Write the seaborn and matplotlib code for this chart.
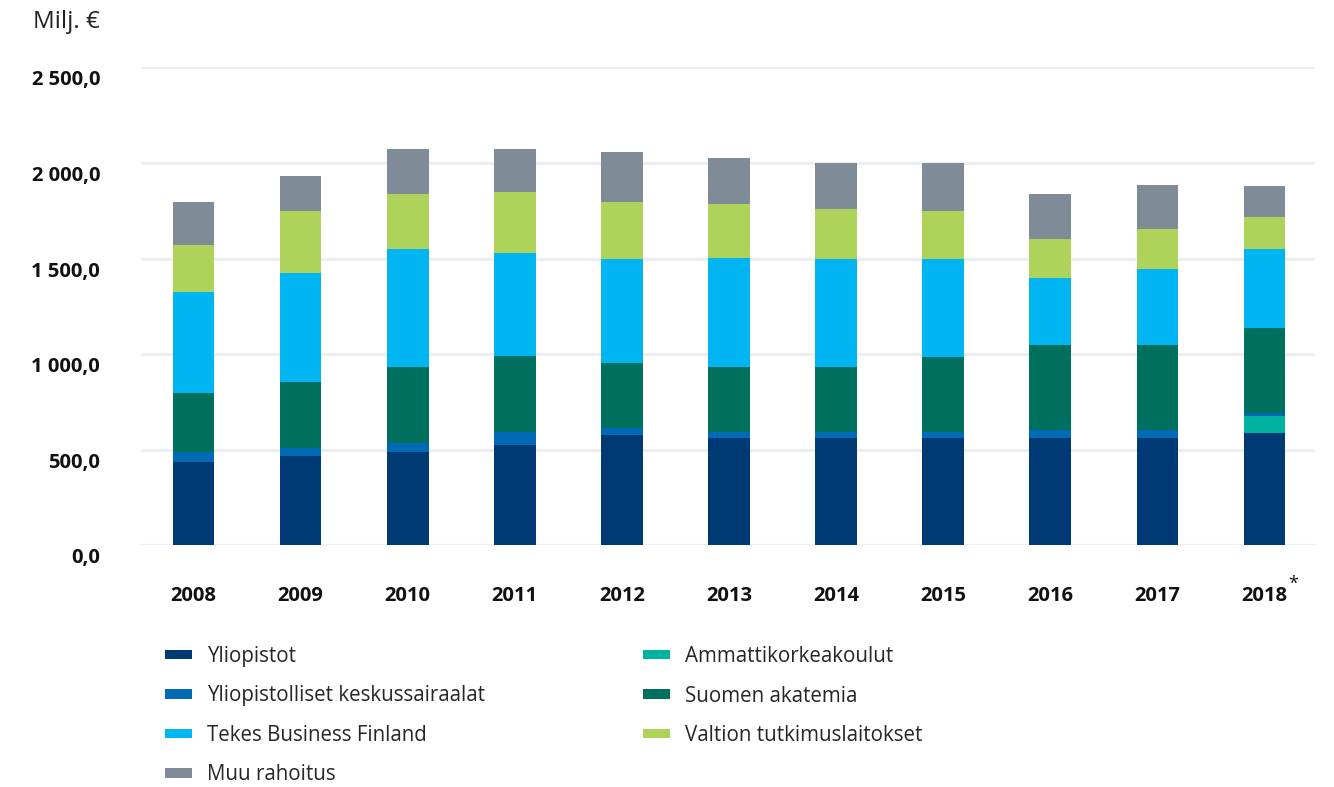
import matplotlib
matplotlib.use('Agg')
import matplotlib.pyplot as plt
import matplotlib.transforms as mtransforms
from matplotlib.patches import Patch
import pandas as pd
import seaborn as sns

# data (Milj. €)
years = ['2008', '2009', '2010', '2011', '2012', '2013', '2014', '2015', '2016', '2017', '2018']
yliopistot = [438, 469, 490, 527, 576, 560, 560, 560, 560, 560, 587]
ammattikorkeakoulut = [0, 0, 0, 0, 0, 0, 0, 0, 0, 0, 92]
keskussairaalat = [52, 42, 48, 65, 38, 32, 32, 32, 43, 43, 11]
akatemia = [309, 342, 397, 397, 342, 343, 343, 392, 443, 443, 447]
tekes = [525, 572, 615, 539, 540, 566, 561, 512, 354, 400, 413]
valtion = [247, 323, 289, 322, 300, 285, 263, 252, 203, 211, 166]
muu = [225, 182, 233, 222, 261, 240, 241, 252, 236, 230, 161]

y_ticks = [0, 500, 1000, 1500, 2000, 2500]
y_labels = ['0,0', '500,0', '1 000,0', '1 500,0', '2 000,0', '2 500,0']

# stack order from bottom to top
series = [
    ('Yliopistot', yliopistot, '#003A75'),
    ('Ammattikorkeakoulut', ammattikorkeakoulut, '#00B2A0'),
    ('Yliopistolliset keskussairaalat', keskussairaalat, '#006AB5'),
    ('Suomen akatemia', akatemia, '#00705E'),
    ('Tekes Business Finland', tekes, '#00B5F1'),
    ('Valtion tutkimuslaitokset', valtion, '#AED35A'),
    ('Muu rahoitus', muu, '#7F8B97'),
]
legend_order = ['Yliopistot', 'Yliopistolliset keskussairaalat', 'Tekes Business Finland',
                'Muu rahoitus', 'Ammattikorkeakoulut', 'Suomen akatemia',
                'Valtion tutkimuslaitokset']

sns.set_style('white')
plt.rcParams['font.family'] = ['Open Sans', 'DejaVu Sans']

fig = plt.figure(figsize=(13.34, 7.87), dpi=100)
ax = fig.add_axes([0.1057, 0.307, 0.88, 0.6075])

bottom = [0] * len(years)
for name, vals, col in series:
    df = pd.DataFrame({'year': years, 'value': vals})
    sns.barplot(data=df, x='year', y='value', order=years, color=col, saturation=1,
                width=0.39, bottom=bottom, linewidth=0, errorbar=None, ax=ax, zorder=3)
    bottom = [b + v for b, v in zip(bottom, vals)]

ax.set_ylim(0, 2500)
ax.set_xlim(-0.49, 10.47)
ax.set_yticks(y_ticks)
ax.yaxis.grid(True, color='#ECEFF2', linewidth=2.3, zorder=0)
ax.xaxis.grid(False)
ax.set_axisbelow(True)
for s in ax.spines.values():
    s.set_visible(False)
ax.set_xlabel('')
ax.set_ylabel('')
ax.tick_params(axis='y', length=0, labelleft=False)
ax.tick_params(axis='x', length=0, pad=29)
for lab in ax.get_xticklabels():
    lab.set_fontweight('bold')
    lab.set_fontsize(14.5)
    lab.set_color('#111111')

# y labels sit a bit below their gridline
ytrans = mtransforms.offset_copy(ax.get_yaxis_transform(), fig=fig, x=-41, y=-13, units='dots')
for v, t in zip(y_ticks, y_labels):
    ax.text(0, v, t, transform=ytrans, ha='right', va='center', fontsize=14.5,
            fontweight='bold', color='#111111')

ax.annotate('*', xy=(10, 0), xycoords=('data', 'axes fraction'), xytext=(20.5, -27.5),
            textcoords='offset points', ha='center', va='center', fontsize=13,
            color='#111111')

fig.text(33 / 1334, 1 - 22 / 787, 'Milj. €', ha='left', va='center', fontsize=17.5,
         color='#222222')

colors = {n: c for n, _, c in series}
handles = [Patch(facecolor=colors[n], edgecolor='none', label=n) for n in legend_order]
fig.legend(handles=handles, loc='upper left', bbox_to_anchor=(165 / 1334, 1 - 646 / 787),
           ncol=2, frameon=False, fontsize=14.8, handlelength=1.31, handleheight=0.34,
           handletextpad=0.73, labelspacing=0.9, columnspacing=7.7, borderpad=0,
           borderaxespad=0)

fig.savefig('out.png', dpi=100)
